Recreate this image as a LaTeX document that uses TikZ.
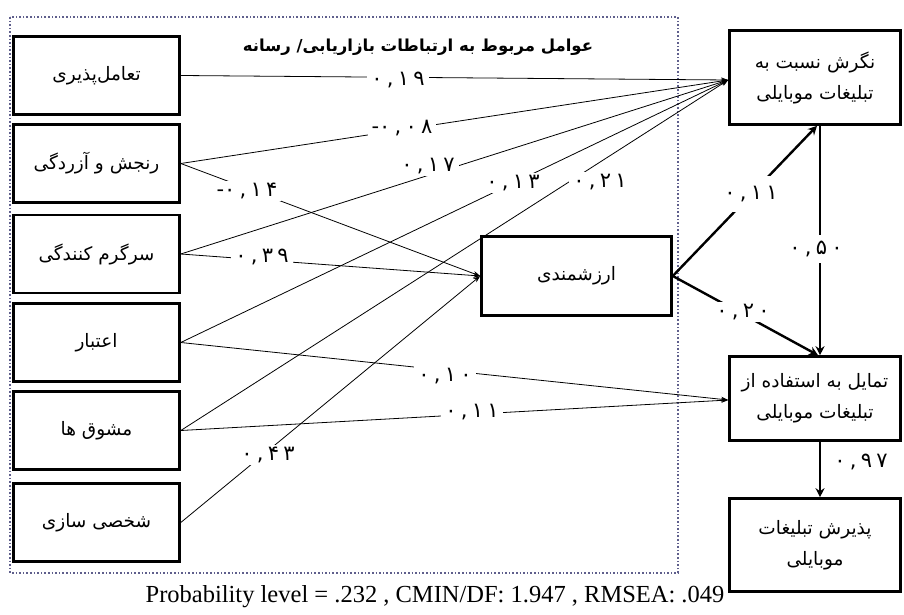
\documentclass[tikz,border=0pt]{standalone}
\usepackage{fontspec}
\usetikzlibrary{arrows.meta,calc}
\TeXXeTstate=1
\newfontfamily\fa[Script=Arabic]{DejaVu Sans}
\newfontfamily\fanum[Script=Arabic,LetterSpace=20]{DejaVu Sans}
\newfontfamily\faplain{DejaVu Sans}
\newfontfamily\ltrserif{Liberation Serif}
\definecolor{dotcol}{RGB}{95,95,140}
\newcommand{\minussign}{{\faplain -}}
\begin{document}
\begin{tikzpicture}[x=1pt,y=-1pt,
  lbox/.style={draw, line width=2.6pt, minimum width=166pt, minimum height=78pt,
    inner sep=0pt, align=center, font=\fa\fontsize{18.5}{30}\selectfont},
  rbox/.style={draw, line width=2.6pt, minimum width=171pt,
    inner sep=0pt, align=center, font=\fa\fontsize{18.5}{31}\selectfont},
  thinarrow/.style={line width=0.8pt, -{Stealth[length=7pt,width=5pt]}},
  thickarrow/.style={line width=2.4pt, -{Stealth[length=9pt,width=9pt]}},
  lab/.style={fill=white, inner xsep=4pt, inner ysep=2pt, font=\fanum\fontsize{21}{24}\selectfont},
  dotbox/.style={draw=dotcol, line width=1.6pt, dotted}
]
\useasboundingbox (0,0) rectangle (904,615);
\fill[white] (0,0) rectangle (904,615);

% dotted frame
\draw[dotbox] (10,17) rectangle (678,573);

% title
\node[font=\fa\bfseries\fontsize{16.5}{20}\selectfont] (title) at (418,47)
  {\beginR عوامل مربوط به ارتباطات بازاریابی/ رسانه\endR};

% left boxes
\node[lbox] (a1) at (96.5,75.5) {\beginR تعامل‌پذیری\endR};
\node[lbox] (a2) at (96.5,163.5) {\beginR رنجش و آزردگی\endR};
\node[lbox] (a3) at (96.5,254) {\beginR سرگرم کنندگی\endR};
\node[lbox] (a4) at (96.5,342.5) {\beginR اعتبار\endR};
\node[lbox] (a5) at (96.5,430.5) {\beginR مشوق ها\endR};
\node[lbox] (a6) at (96.5,522.5) {\beginR شخصی سازی\endR};

% middle box
\node[lbox, minimum width=190pt, minimum height=79pt] (arz) at (576.5,276) {\beginR ارزشمندی\endR};

% right boxes
\node[rbox, minimum height=94pt] (ng) at (815,77.5)
  {\beginR نگرش نسبت به\endR\\\beginR تبلیغات موبایلی\endR};
\node[rbox, minimum height=84pt] (tm) at (815,398.5)
  {\beginR تمایل به استفاده از\endR\\\beginR تبلیغات موبایلی\endR};
\node[rbox, minimum height=93pt] (pz) at (815,545)
  {\beginR پذیرش تبلیغات\endR\\\beginR موبایلی\endR};

% thin connectors
\draw[thinarrow] (a1.east) -- ([yshift=-2.5pt]ng.west);
\draw[thinarrow] (a2.east) -- ([yshift=-2.5pt]ng.west);
\draw[thinarrow] (a3.east) -- ([yshift=-2.5pt]ng.west);
\draw[thinarrow] (a4.east) -- ([yshift=-2.5pt]ng.west);
\draw[thinarrow] (a5.east) -- ([yshift=-2.5pt]ng.west);
\draw[thinarrow] (a2.east) -- (arz.west);
\draw[thinarrow] (a3.east) -- (arz.west);
\draw[thinarrow] (a6.east) -- (arz.west);
\draw[thinarrow] (a4.east) -- ([yshift=-1.5pt]tm.west);
\draw[thinarrow] (a5.east) -- ([yshift=-1.5pt]tm.west);

% thick connectors
\draw[thickarrow] (arz.east) -- ([xshift=2pt]ng.south);
\draw[thickarrow] (arz.east) -- ([xshift=3pt]tm.north);
\draw[thickarrow] ([xshift=5pt]ng.south) -- ([xshift=5pt]tm.north);
\draw[thickarrow] ([xshift=5pt]tm.south) -- ([xshift=5pt]pz.north);

% labels
\node[lab] (l19) at (398,80) {۰,۱۹};
\node[lab] (l08) at (402,128) {\minussign۰,۰۸};
\node[lab] (l17) at (428,166) {۰,۱۷};
\node[lab] (l14) at (247,191) {\minussign۰,۱۴};
\node[lab] (l39) at (262,257) {۰,۳۹};
\node[lab] (l13) at (513,183) {۰,۱۳};
\node[lab] (l21) at (600,182) {۰,۲۱};
\node[lab] (l10) at (445,376) {۰,۱۰};
\node[lab] (l11a) at (472,412) {۰,۱۱};
\node[lab] (l43) at (268,455) {۰,۴۳};
\node[lab, inner xsep=3pt, inner ysep=10pt] (l11b) at (751,194) {۰,۱۱};
\node[lab, inner xsep=8pt] (l20) at (743,312) {۰,۲۰};
\node[lab, inner xsep=1pt, inner ysep=6pt] (l50) at (816,249) {۰,۵۰};
\node[lab, fill=none] (l97) at (861,462) {۰,۹۷};

% footer
\node[font=\ltrserif\fontsize{24.5}{27}\selectfont] (foot) at (435,597)
  {Probability level = .232 , CMIN/DF: 1.947 , RMSEA: .049};
\end{tikzpicture}
\end{document}
